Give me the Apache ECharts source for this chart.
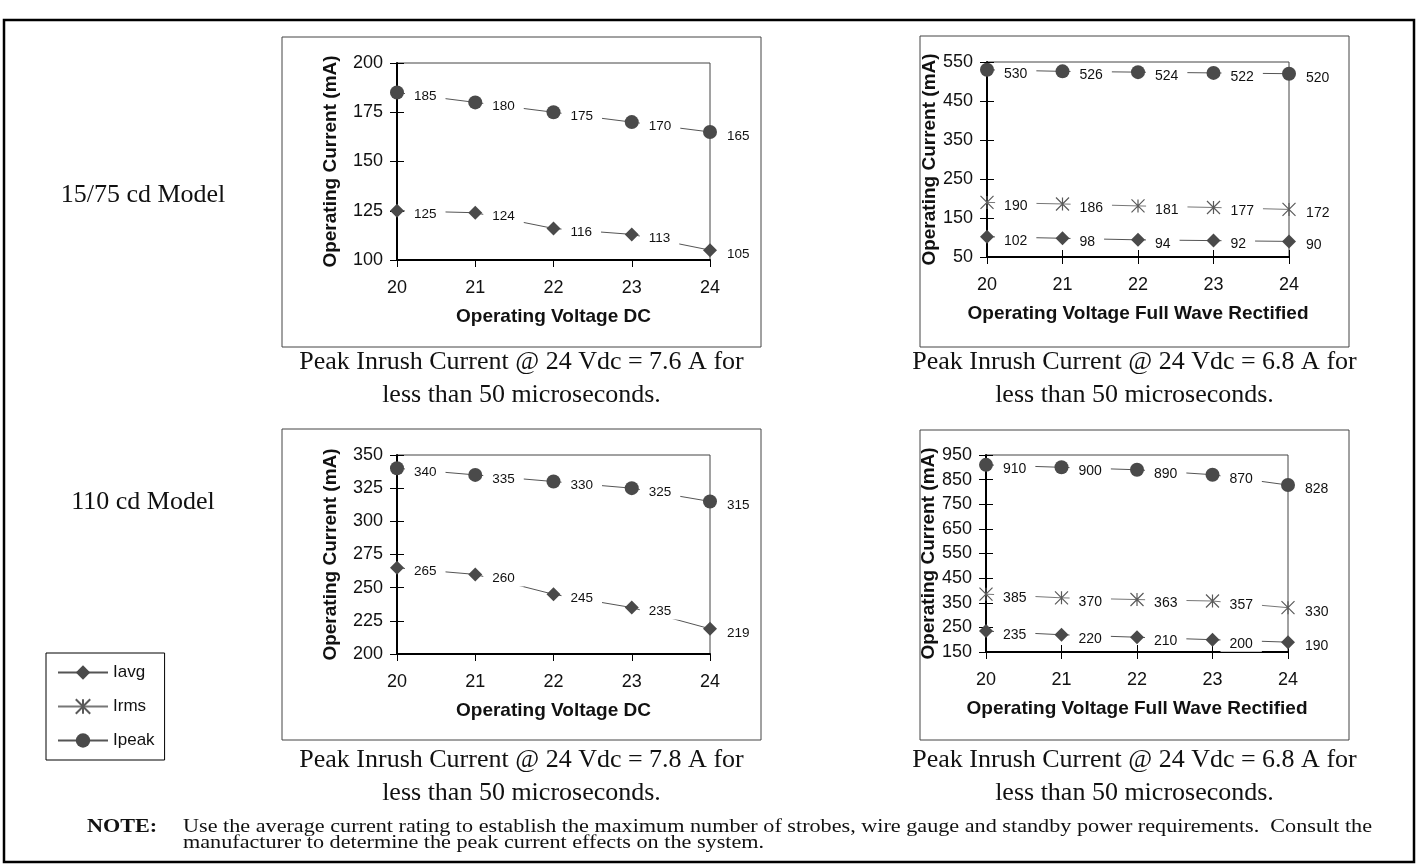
<!DOCTYPE html>
<html>
<head>
<meta charset="utf-8">
<script src="https://cdn.jsdelivr.net/npm/echarts@6/dist/echarts.min.js"></script>
<style>
  html, body { margin: 0; padding: 0; background: #fff; }
  #main { width: 1417px; height: 866px; }
</style>
</head>
<body>
<div id="main"></div>
<script>
// operating voltage categories
var volts = ['20', '21', '22', '23', '24'];

// 15/75 cd model
var dc15Avg = [125, 124, 116, 113, 105];
var dc15Peak = [185, 180, 175, 170, 165];
var fw15Avg = [102, 98, 94, 92, 90];
var fw15Rms = [190, 186, 181, 177, 172];
var fw15Peak = [530, 526, 524, 522, 520];

// 110 cd model
var dc110Avg = [265, 260, 245, 235, 219];
var dc110Peak = [340, 335, 330, 325, 315];
var fw110Avg = [235, 220, 210, 200, 190];
var fw110Rms = [385, 370, 363, 357, 330];
var fw110Peak = [910, 900, 890, 870, 828];

var legendNames = ['Iavg', 'Irms', 'Ipeak'];
var rowNames = ['15/75 cd Model', '110 cd Model'];
var captions = [
  ['Peak Inrush Current @ 24 Vdc = 7.6 A for', 'less than 50 microseconds.'],
  ['Peak Inrush Current @ 24 Vdc = 6.8 A for', 'less than 50 microseconds.'],
  ['Peak Inrush Current @ 24 Vdc = 7.8 A for', 'less than 50 microseconds.'],
  ['Peak Inrush Current @ 24 Vdc = 6.8 A for', 'less than 50 microseconds.']
];
var noteLines = [
  'Use the average current rating to establish the maximum number of strobes, wire gauge and standby power requirements.  Consult the',
  'manufacturer to determine the peak current effects on the system.'
];

var SANS = '"Liberation Sans", Arial, sans-serif';
var SERIF = '"Liberation Serif", "Times New Roman", serif';

var charts = [
  { grid: {left: 397, top: 63, width: 313, height: 197}, box: [282, 37, 479, 310], capY: 362,
    min: 100, max: 200, interval: 25, xName: 'Operating Voltage DC', yGap: 57, labSize: 13.5, crossX: false,
    series: [['Iavg', dc15Avg], ['Ipeak', dc15Peak]] },
  { grid: {left: 987, top: 62, width: 302, height: 195}, box: [920, 36, 429, 311], capY: 362,
    min: 50, max: 550, interval: 100, xName: 'Operating Voltage Full Wave Rectified', yGap: 45, labSize: 14, crossX: true,
    series: [['Iavg', fw15Avg], ['Irms', fw15Rms], ['Ipeak', fw15Peak]] },
  { grid: {left: 397, top: 455, width: 313, height: 199}, box: [282, 429, 479, 311], capY: 760,
    min: 200, max: 350, interval: 25, xName: 'Operating Voltage DC', yGap: 57, labSize: 13.5, crossX: false,
    series: [['Iavg', dc110Avg], ['Ipeak', dc110Peak]] },
  { grid: {left: 986, top: 455, width: 302, height: 197}, box: [920, 430, 429, 310], capY: 760,
    min: 150, max: 950, interval: 100, xName: 'Operating Voltage Full Wave Rectified', yGap: 45, labSize: 14, crossX: true,
    series: [['Iavg', fw110Avg], ['Irms', fw110Rms], ['Ipeak', fw110Peak]] }
];

var markStyle = {
  Iavg: { symbol: 'diamond', symbolSize: 14, color: '#4a4a4a', line: '#555', border: 0 },
  Irms: { symbol: 'path://M0,0L10,10M10,0L0,10M5,0L5,10', symbolSize: 13, color: '#5a5a5a', line: '#777', border: 1.2 },
  Ipeak: { symbol: 'circle', symbolSize: 14, color: '#4a4a4a', line: '#555', border: 0 }
};

var grids = [], xAxes = [], yAxes = [], series = [], graphics = [];

charts.forEach(function (c, i) {
  grids.push(Object.assign({ show: true, borderColor: '#444', borderWidth: 1, backgroundColor: 'transparent' }, c.grid));

  // main x axis
  xAxes.push({
    type: 'category', gridIndex: i, data: volts, boundaryGap: false,
    axisLine: { lineStyle: { color: '#000', width: 2 } },
    axisTick: { show: true, length: 7, alignWithLabel: true, lineStyle: { color: '#000' } },
    axisLabel: { fontSize: 18, fontFamily: SANS, color: '#111', margin: 19 },
    name: c.xName, nameLocation: 'middle', nameGap: 47,
    nameTextStyle: { fontSize: 19, fontWeight: 'bold', fontFamily: SANS, color: '#111' }
  });
  // second x axis only to make the ticks cross the line
  xAxes.push({
    type: 'category', gridIndex: i, data: volts, boundaryGap: false, position: 'bottom',
    axisLine: { show: false },
    axisTick: { show: c.crossX, inside: true, length: 7, lineStyle: { color: '#000' } },
    axisLabel: { show: false }
  });

  yAxes.push({
    type: 'value', gridIndex: i, min: c.min, max: c.max, interval: c.interval,
    axisLine: { show: true, lineStyle: { color: '#000', width: 2 } },
    axisTick: { show: true, length: 7, lineStyle: { color: '#000' } },
    splitLine: { show: false },
    axisLabel: { fontSize: 18, fontFamily: SANS, color: '#111', margin: 14 },
    name: 'Operating Current (mA)', nameLocation: 'middle', nameGap: c.yGap, nameRotate: 90,
    nameTextStyle: { fontSize: 19, fontWeight: 'bold', fontFamily: SANS, color: '#111' }
  });
  yAxes.push({
    type: 'value', gridIndex: i, min: c.min, max: c.max, interval: c.interval, position: 'left',
    axisLine: { show: false },
    axisTick: { show: true, inside: true, length: 7, lineStyle: { color: '#000' } },
    splitLine: { show: false },
    axisLabel: { show: false }
  });

  c.series.forEach(function (s) {
    var st = markStyle[s[0]];
    series.push({
      name: s[0], type: 'line', xAxisIndex: 2 * i, yAxisIndex: 2 * i, data: s[1],
      symbol: st.symbol, symbolSize: st.symbolSize, showAllSymbol: true,
      lineStyle: { color: st.line, width: 1 },
      itemStyle: { color: st.color, borderColor: st.color, borderWidth: st.border },
      label: {
        show: true, position: 'right', distance: 1, offset: [0, 4],
        padding: [1, 9], backgroundColor: '#fff',
        fontSize: c.labSize, fontFamily: SANS, color: '#111'
      },
      emphasis: { disabled: true },
      animation: false
    });
  });

  // chart frame
  graphics.push({
    type: 'rect', shape: { x: c.box[0], y: c.box[1], width: c.box[2], height: c.box[3] },
    style: { fill: 'none', stroke: '#444', lineWidth: 1 }, z: -1
  });
  // caption under the chart
  var cx = c.box[0] + c.box[2] / 2;
  captions[i].forEach(function (t, k) {
    graphics.push({
      type: 'text', x: cx, y: c.capY + k * 33,
      style: { text: t, fontSize: 26, fontFamily: SERIF, fill: '#111', align: 'center', verticalAlign: 'middle' }
    });
  });
});

// row labels
graphics.push({ type: 'text', x: 143, y: 195,
  style: { text: rowNames[0], fontSize: 26, fontFamily: SERIF, fill: '#111', align: 'center', verticalAlign: 'middle' } });
graphics.push({ type: 'text', x: 143, y: 502,
  style: { text: rowNames[1], fontSize: 26, fontFamily: SERIF, fill: '#111', align: 'center', verticalAlign: 'middle' } });

// the note text in the scan is stretched sideways, measure and stretch the same way
var ctx = document.createElement('canvas').getContext('2d');
ctx.font = '18px ' + SERIF;
var stretch = 1189 / ctx.measureText(noteLines[0]).width;

graphics.push({ type: 'text', x: 87, y: 827, scaleX: stretch,
  style: { text: 'NOTE:', fontSize: 18, fontWeight: 'bold', fontFamily: SERIF, fill: '#111', align: 'left', verticalAlign: 'middle' } });
noteLines.forEach(function (t, k) {
  graphics.push({ type: 'text', x: 183, y: 827 + k * 16, scaleX: stretch,
    style: { text: t, fontSize: 18, fontFamily: SERIF, fill: '#111', align: 'left', verticalAlign: 'middle' } });
});

// outer frame
graphics.push({ type: 'rect', shape: { x: 4, y: 20, width: 1410, height: 842 },
  style: { fill: 'none', stroke: '#000', lineWidth: 2.5 } });

var myChart = echarts.init(document.getElementById('main'), null, { renderer: 'canvas' });
myChart.setOption({
  backgroundColor: '#fff',
  animation: false,
  legend: {
    data: legendNames, orient: 'vertical', left: 46, top: 653,
    itemWidth: 50, itemHeight: 18, itemGap: 17,
    padding: [11, 10, 11, 11],
    borderColor: '#000', borderWidth: 1,
    textStyle: { fontSize: 17, fontFamily: SANS, color: '#111' }
  },
  grid: grids,
  xAxis: xAxes,
  yAxis: yAxes,
  series: series,
  graphic: graphics
});
</script>
</body>
</html>
